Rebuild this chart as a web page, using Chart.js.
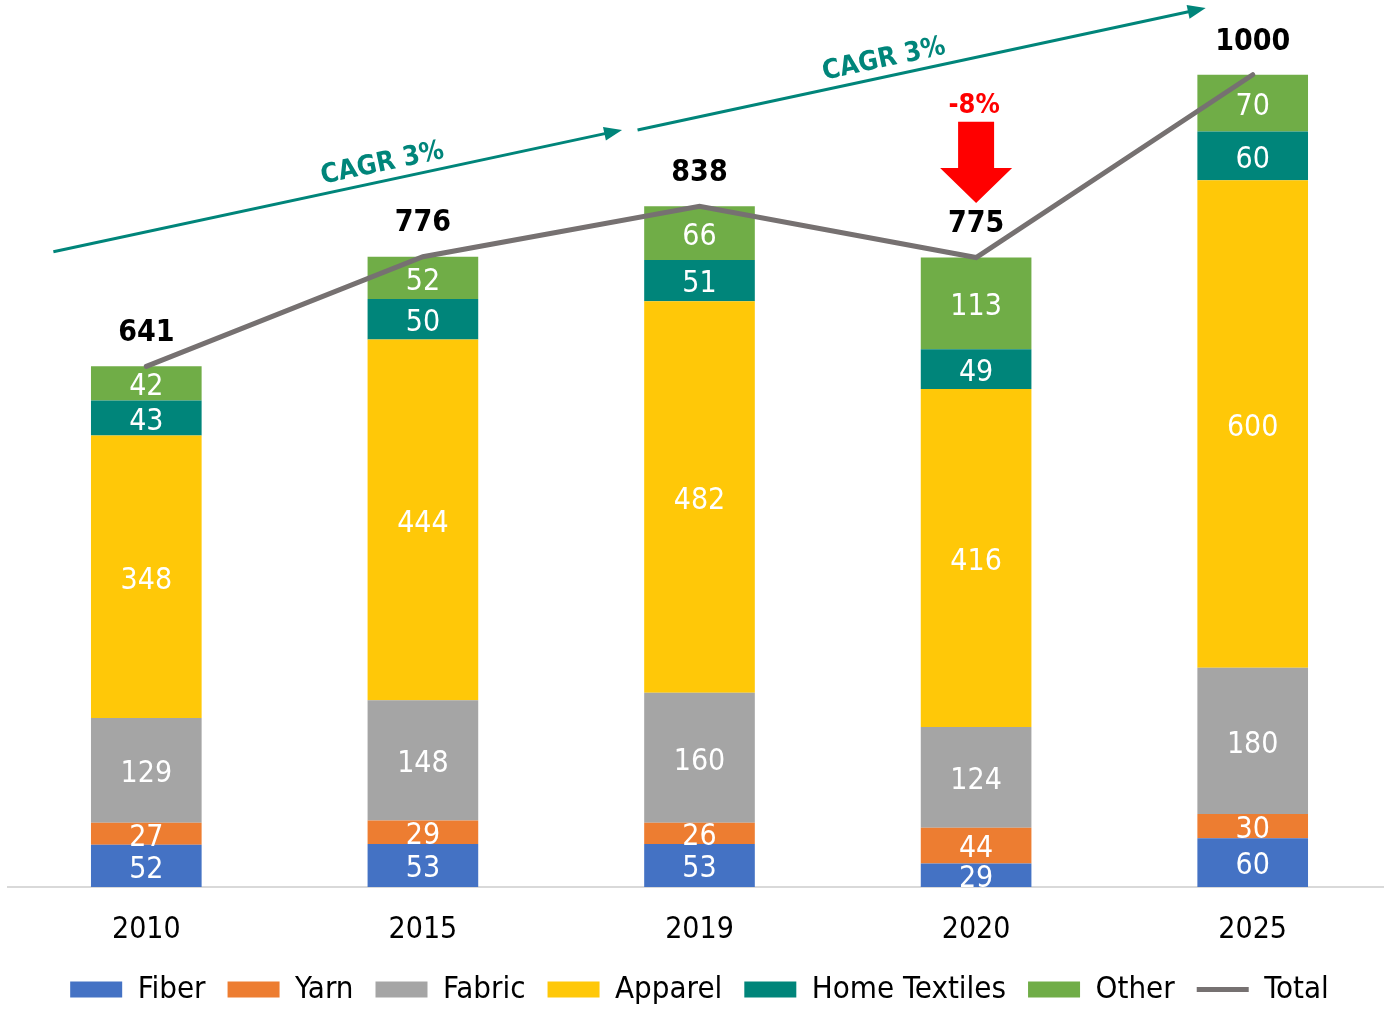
<!DOCTYPE html>
<html>
<head>
<meta charset="utf-8">
<script src="https://cdn.jsdelivr.net/npm/chart.js@4.4.1/dist/chart.umd.min.js"></script>
<style>
  html, body { margin: 0; padding: 0; background: #fff; overflow: hidden; }
  #wrap { position: absolute; left: 0; top: 0; width: 1392px; height: 1009px; }
</style>
</head>
<body>
<div id="wrap"><canvas id="chart"></canvas></div>
<script>
const years = ['2010', '2015', '2019', '2020', '2025'];
const fiber = [52, 53, 53, 29, 60];
const yarn = [27, 29, 26, 44, 30];
const fabric = [129, 148, 160, 124, 180];
const apparel = [348, 444, 482, 416, 600];
const homeTextiles = [43, 50, 51, 49, 60];
const other = [42, 52, 66, 113, 70];
const total = [641, 776, 838, 775, 1000];

// annotations, in category index / value units
const cagrArrows = [
  { from: [-0.336, 782], to: [1.72, 932], label: 'CAGR 3%', at: 0.585 },
  { from: [1.776, 932], to: [3.83, 1082], label: 'CAGR 3%', at: 0.44 }
];
const dropArrow = { index: 3, top: 942, tip: 842, label: '-8%', labelAt: 962 };

const FONT = "'DejaVu Sans Condensed', 'DejaVu Sans', sans-serif";
const TEAL = '#00857A';

function bar(label, data, color) {
  return {
    type: 'bar', label: label, data: data, backgroundColor: color,
    borderWidth: 0, stack: 'seg', order: 1, pointStyle: 'rect'
  };
}

const labelsPlugin = {
  id: 'labels',
  afterDatasetsDraw(chart) {
    const ctx = chart.ctx;
    ctx.save();
    ctx.textAlign = 'center';
    ctx.textBaseline = 'middle';
    chart.data.datasets.forEach(function (ds, i) {
      const meta = chart.getDatasetMeta(i);
      meta.data.forEach(function (el, j) {
        if (ds.type === 'bar') {
          ctx.fillStyle = '#fff';
          ctx.font = '30px ' + FONT;
          ctx.fillText(String(ds.data[j]), el.x, (el.y + el.base) / 2 + 4);
        } else {
          ctx.fillStyle = '#000';
          ctx.font = 'bold 30px ' + FONT;
          ctx.fillText(String(ds.data[j]), el.x, el.y - 33);
        }
      });
    });

    const xs = chart.scales.x, ys = chart.scales.y;
    // CAGR arrows
    cagrArrows.forEach(function (a) {
      const x1 = xs.getPixelForValue(a.from[0]), y1 = ys.getPixelForValue(a.from[1]);
      const x2 = xs.getPixelForValue(a.to[0]), y2 = ys.getPixelForValue(a.to[1]);
      const ang = Math.atan2(y2 - y1, x2 - x1);
      ctx.strokeStyle = TEAL;
      ctx.fillStyle = TEAL;
      ctx.lineWidth = 3;
      ctx.beginPath();
      ctx.moveTo(x1, y1);
      ctx.lineTo(x2 - 14 * Math.cos(ang), y2 - 14 * Math.sin(ang));
      ctx.stroke();
      ctx.save();
      ctx.translate(x2, y2);
      ctx.rotate(ang);
      ctx.beginPath();
      ctx.moveTo(0, 0);
      ctx.lineTo(-18, -7);
      ctx.lineTo(-18, 7);
      ctx.closePath();
      ctx.fill();
      ctx.restore();
      const tx = x1 + (x2 - x1) * a.at, ty = y1 + (y2 - y1) * a.at;
      ctx.save();
      ctx.translate(tx, ty);
      ctx.rotate(ang);
      ctx.font = 'bold 27px ' + FONT;
      ctx.fillText(a.label, 0, -17);
      ctx.restore();
    });

    // red drop arrow
    const cx = xs.getPixelForValue(dropArrow.index);
    const top = ys.getPixelForValue(dropArrow.top);
    const tip = ys.getPixelForValue(dropArrow.tip);
    ctx.fillStyle = '#FF0000';
    ctx.beginPath();
    ctx.moveTo(cx - 18, top);
    ctx.lineTo(cx + 18, top);
    ctx.lineTo(cx + 18, tip - 35);
    ctx.lineTo(cx + 36, tip - 35);
    ctx.lineTo(cx, tip);
    ctx.lineTo(cx - 36, tip - 35);
    ctx.lineTo(cx - 18, tip - 35);
    ctx.closePath();
    ctx.fill();
    ctx.font = 'bold 27px ' + FONT;
    ctx.fillText(dropArrow.label, cx - 2, ys.getPixelForValue(dropArrow.labelAt));
    ctx.restore();
  }
};

new Chart(document.getElementById('chart'), {
  data: {
    labels: years,
    datasets: [
      bar('Fiber', fiber, '#4472C4'),
      bar('Yarn', yarn, '#ED7D31'),
      bar('Fabric', fabric, '#A5A5A5'),
      bar('Apparel', apparel, '#FFC808'),
      bar('Home Textiles', homeTextiles, TEAL),
      bar('Other', other, '#70AD47'),
      {
        type: 'line', label: 'Total', data: total, stack: 'total', order: 0,
        borderColor: '#767171', backgroundColor: '#767171', borderWidth: 5,
        borderCapStyle: 'round', pointRadius: 0, pointHoverRadius: 0,
        pointStyle: 'line', tension: 0
      }
    ]
  },
  options: {
    responsive: true,
    maintainAspectRatio: false,
    animation: false,
    layout: { padding: { left: 8, right: 1, top: 0, bottom: 0 } },
    datasets: { bar: { barPercentage: 0.4, categoryPercentage: 1 } },
    plugins: {
      tooltip: { enabled: false },
      legend: {
        position: 'bottom',
        maxHeight: 57,
        labels: {
          usePointStyle: true,
          pointStyleWidth: 52,
          boxHeight: 16,
          padding: 22,
          color: '#000',
          font: { family: FONT, size: 31 },
          sort: function (a, b) { return a.datasetIndex - b.datasetIndex; }
        }
      }
    },
    scales: {
      x: {
        stacked: true,
        grid: { display: false },
        border: { display: true, color: '#D9D9D9', width: 2 },
        ticks: { color: '#000', padding: 17, font: { family: FONT, size: 30 } },
        afterFit: function (scale) { scale.height = 65; }
      },
      y: {
        display: false,
        stacked: true,
        min: 0,
        max: 1092
      }
    }
  },
  plugins: [labelsPlugin]
});
</script>
</body>
</html>
